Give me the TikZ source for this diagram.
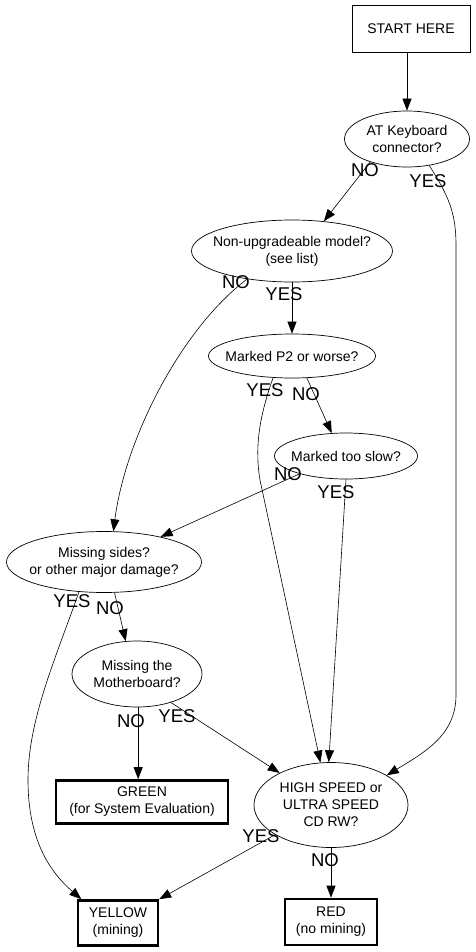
\documentclass[tikz,border=0pt]{standalone}
\usepackage{fontspec}
\setmainfont{Liberation Sans}
\usetikzlibrary{shapes.geometric,arrows.meta}

\begin{document}
\begin{tikzpicture}[x=1pt, y=-1pt,
		question/.style={shape=ellipse, draw, line width=0.7pt, inner sep=-30pt, align=center, font=\fontsize{14}{17}\selectfont},
		plainbox/.style={shape=rectangle, draw, line width=0.7pt, inner sep=0pt, align=center, font=\fontsize{14}{17}\selectfont},
		result/.style={plainbox, line width=2.6pt},
		edge/.style={-{Triangle[length=12pt, width=9pt]}, line width=0.6pt},
		answer/.style={font=\fontsize{18.5}{18.5}\selectfont, inner sep=0pt}]
		\useasboundingbox (0,0) rectangle (475,952);

		% Domande
		\node[plainbox, minimum width=118, minimum height=47] (start) at (411, 29){START HERE};
		\node[question, minimum width=125, minimum height=56] (at) at (407, 139){AT Keyboard\\connector?};
		\node[question, minimum width=201, minimum height=62] (nonup) at (292, 251){Non-upgradeable model?\\(see list)};
		\node[question, minimum width=167, minimum height=44] (p2) at (292, 356){Marked P2 or worse?};
		\node[question, minimum width=143, minimum height=46] (slow) at (346, 456){Marked too slow?};
		\node[question, minimum width=195, minimum height=61] (sides) at (104, 562){Missing sides?\\or other major damage?};
		\node[question, minimum width=130, minimum height=66] (mobo) at (137, 674){Missing the\\Motherboard?};
		\node[question, minimum width=154, minimum height=85] (hs) at (331, 805){HIGH SPEED or\\ULTRA SPEED\\CD RW?};

		% Risultati
		\node[result, minimum width=172, minimum height=43] (green) at (142, 802){GREEN\\(for System Evaluation)};
		\node[result, minimum width=92, minimum height=46] (red) at (331, 922){RED\\(no mining)};
		\node[result, minimum width=80, minimum height=45] (yellow) at (118, 923){YELLOW\\(mining)};

		% Frecce
		\draw[edge] (at|-start.south) -- (at.north);
		\draw[edge] (at.212) -- (nonup.43);
		\draw[edge] (at.310) .. controls (448,195) and (456,212) .. (456,245) -- (456,695) .. controls (456,735) and (425,752) .. (hs.28);
		\draw[edge] (nonup) -- (p2);
		\draw[edge] (nonup.212) .. controls (180,330) and (125,440) .. (sides.73);
		\draw[edge] (p2.304) -- (slow.122);
		\draw[edge] (p2.229) .. controls (258,420) and (255,450) .. (260,480) -- (hs.104);
		\draw[edge] (slow.201) -- (sides.24);
		\draw[edge] (slow.270) -- (hs.93);
		\draw[edge] (sides.230) .. controls (55,660) and (28,720) .. (28,780) .. controls (28,840) and (50,872) .. (yellow.147);
		\draw[edge] (sides.289) -- (mobo.109);
		\draw[edge] (mobo.272) -- (mobo.272|-green.north);
		\draw[edge] (mobo.320) -- (hs.148);
		\draw[edge] (hs) -- (red);
		\draw[edge] (hs.208) -- (yellow.30);

		% Etichette
		\node[answer] (no1) at (365, 170){NO};
		\node[answer] (yes1) at (428, 181){YES};
		\node[answer] (yes2) at (284, 294){YES};
		\node[answer] (no2) at (236, 282){NO};
		\node[answer] (yes3) at (265, 390){YES};
		\node[answer] (no3) at (306, 394){NO};
		\node[answer] (no4) at (288, 474){NO};
		\node[answer] (yes4) at (336, 492){YES};
		\node[answer] (yes5) at (72, 601){YES};
		\node[answer] (no5) at (110, 608){NO};
		\node[answer] (no6) at (131, 721){NO};
		\node[answer] (yes6) at (177, 716){YES};
		\node[answer] (yes7) at (261, 836){YES};
		\node[answer] (no7) at (325, 860){NO};
	\end{tikzpicture}
\end{document}
